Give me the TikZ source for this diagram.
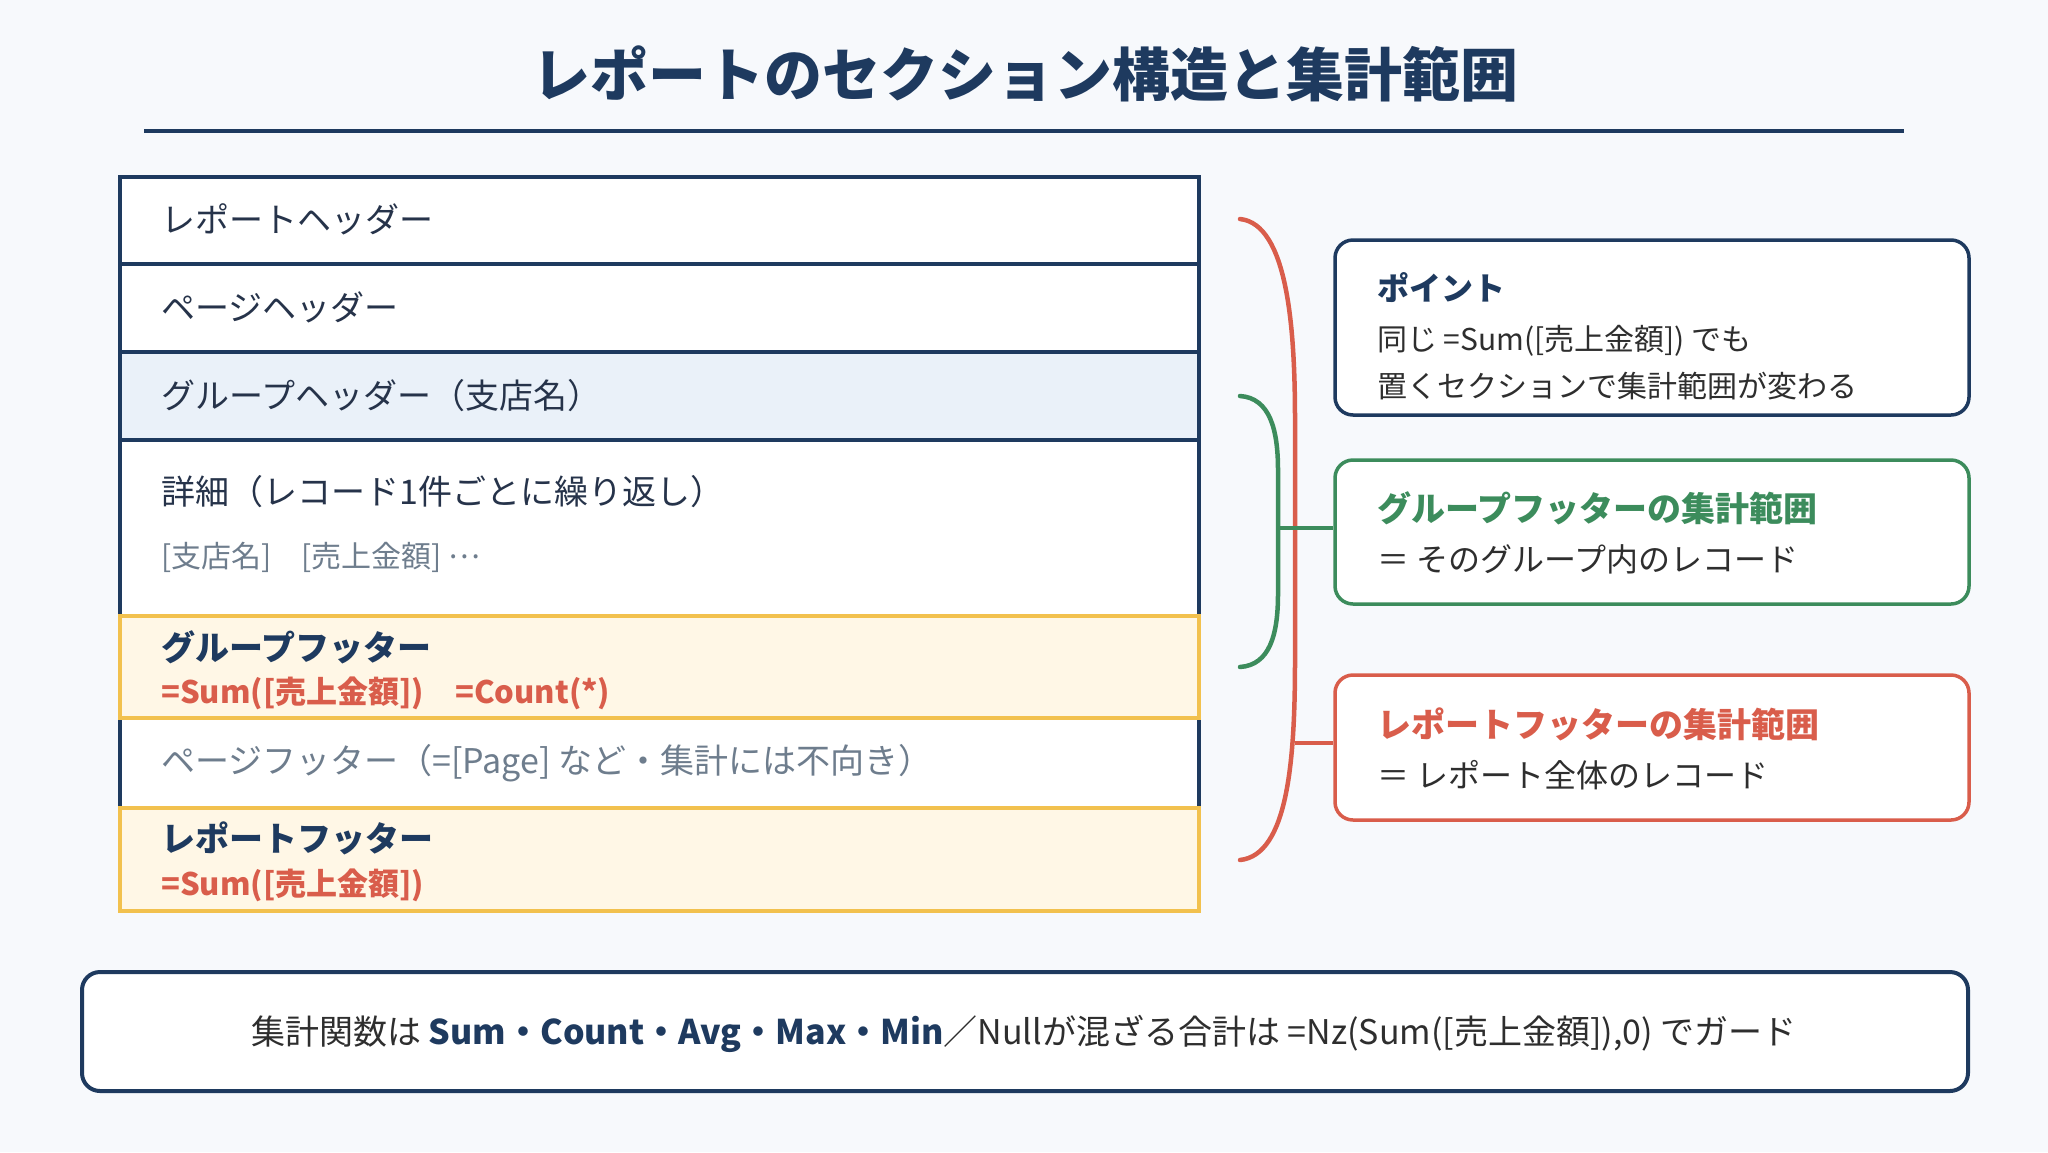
\documentclass[tikz,border=0pt]{standalone}
\usepackage{fontspec}
\setmainfont{Noto Sans CJK JP}
\usetikzlibrary{calc}
\definecolor{navy}{HTML}{1E3A5F}
\definecolor{redc}{HTML}{D95D4B}
\definecolor{greenc}{HTML}{3C8C5C}
\definecolor{yel}{HTML}{F2C14E}
\definecolor{cream}{HTML}{FFF7E6}
\definecolor{lblue}{HTML}{EAF1F9}
\definecolor{grayt}{HTML}{6E7D8D}
\definecolor{bgc}{HTML}{F7F9FC}
\definecolor{txt}{HTML}{26334A}
\definecolor{txtb}{HTML}{2E2E2E}
\newcommand{\fsz}[1]{\fontsize{#1}{#1}\selectfont}
\tikzset{
  rowbox/.style={draw=navy, line width=4pt, fill=white},
  yelbox/.style={draw=yel, line width=4.5pt, fill=cream},
  lbl/.style={anchor=west, inner sep=0pt, font=\fsz{34}, text=txt},
  sublbl/.style={anchor=west, inner sep=0pt, font=\fsz{30}, text=grayt},
  pflbl/.style={anchor=west, inner sep=0pt, font=\fsz{34}, text=grayt},
  boldlbl/.style={anchor=west, inner sep=0pt, font=\fsz{34}\bfseries, text=navy},
  formula/.style={anchor=west, inner sep=0pt, font=\fsz{31}\bfseries, text=redc},
  sidebox/.style={draw=#1, line width=3.5pt, fill=white, rounded corners=18pt},
  sidetitle/.style={anchor=west, inner sep=0pt, font=\fsz{34}\bfseries, text=#1},
  pttitle/.style={anchor=west, inner sep=0pt, font=\fsz{32}\bfseries, text=navy},
  sidetext/.style={anchor=west, inner sep=0pt, font=\fsz{32}, text=txtb},
  pttext/.style={anchor=west, inner sep=0pt, font=\fsz{30}, text=txtb},
  bracel/.style={draw=#1, line width=4.5pt, line cap=round},
}
\begin{document}
\begin{tikzpicture}[x=1pt,y=-1pt]
\useasboundingbox (0,0) rectangle (2048,1152);
\fill[bgc] (0,0) rectangle (2048,1152);

% title
\node[inner sep=0pt, font=\fsz{58}\bfseries, text=navy] (title) at (1025,74) {レポートのセクション構造と集計範囲};
\draw[navy, line width=4pt] (144,131) -- (1904,131);

% stack rows
\draw[rowbox] (120,177) rectangle (1199,264);
\draw[rowbox] (120,264) rectangle (1199,352);
\draw[rowbox, fill=lblue] (120,352) rectangle (1199,440);
\draw[rowbox] (120,440) rectangle (1199,616);
\draw[rowbox] (120,718) rectangle (1199,808);
\draw[yelbox] (120,616) rectangle (1199,718);
\draw[yelbox] (120,808) rectangle (1199,911);

\node[lbl] (rh) at (161,219) {レポートヘッダー};
\node[lbl] (ph) at (161,307) {ページヘッダー};
\node[lbl] (gh) at (161,396) {グループヘッダー（支店名）};
\node[lbl] (dt) at (161,492) {詳細（レコード1件ごとに繰り返し）};
\node[sublbl] (dtf) at (161,557) {[支店名]\hspace{1em}[売上金額] \raisebox{0.3em}{…}};
\node[boldlbl] (gf) at (161,647) {グループフッター};
\node[formula] (gff) at (161,693) {=Sum([売上金額])\hspace{1em}=Count(*)};
\node[pflbl] (pf) at (161,763) {ページフッター（=[Page] など・集計には不向き）};
\node[boldlbl] (rf) at (161,838) {レポートフッター};
\node[formula] (rff) at (161,885) {=Sum([売上金額])};

% side boxes
\node[sidebox=navy, minimum width=634pt, minimum height=175pt, inner sep=0pt] (pt) at (1652,327.5) {};
\node[pttitle] (ptt) at (1377,288) {ポイント};
\node[pttext] (pt1) at (1377,341) {同じ =Sum([売上金額]) でも};
\node[pttext] (pt2) at (1377,386) {置くセクションで集計範囲が変わる};

\node[sidebox=greenc, minimum width=634pt, minimum height=144pt, inner sep=0pt] (gb) at (1652,532) {};
\node[sidetitle=greenc] (gbt) at (1377,508) {グループフッターの集計範囲};
\node[sidetext] (gb1) at (1377,559) {＝ そのグループ内のレコード};

\node[sidebox=redc, minimum width=634pt, minimum height=145pt, inner sep=0pt] (rb) at (1652,747.5) {};
\node[sidetitle=redc] (rbt) at (1377,724) {レポートフッターの集計範囲};
\node[sidetext] (rb1) at (1377,775) {＝ レポート全体のレコード};

% braces
\coordinate (gtop) at (1240,396);
\coordinate (gbot) at (1240,667);
\coordinate (gmid) at (1278,528);
\coordinate (rtop) at (1240,219);
\coordinate (rbot) at (1240,860);
\coordinate (rmid) at (1295,743);
\draw[bracel=redc] (rtop) .. controls (1288,224) and (1295,330) .. (1295,420) -- (1295,660) .. controls (1295,760) and (1288,855) .. (rbot);
\draw[bracel=greenc] (gtop) .. controls (1270,398) and (1278,430) .. (1278,470) -- (1278,594) .. controls (1278,634) and (1270,665) .. (gbot);
\draw[greenc, line width=4.5pt] (gmid) -- (gmid -| gb.west);
\draw[redc, line width=4.5pt] (rmid) -- (rmid -| rb.west);

% bottom box
\node[draw=navy, line width=4pt, fill=white, rounded corners=18pt, minimum width=1886pt, minimum height=119pt, inner sep=0pt] (bt) at (1025,1031.5) {};
\node[inner sep=0pt, font=\fsz{34}, text=txtb] (btt) at (1024,1034) {集計関数は {\bfseries\color{navy}Sum・Count・Avg・Max・Min}／Nullが混ざる合計は =Nz(Sum([売上金額]),0) でガード};
\end{tikzpicture}
\end{document}
